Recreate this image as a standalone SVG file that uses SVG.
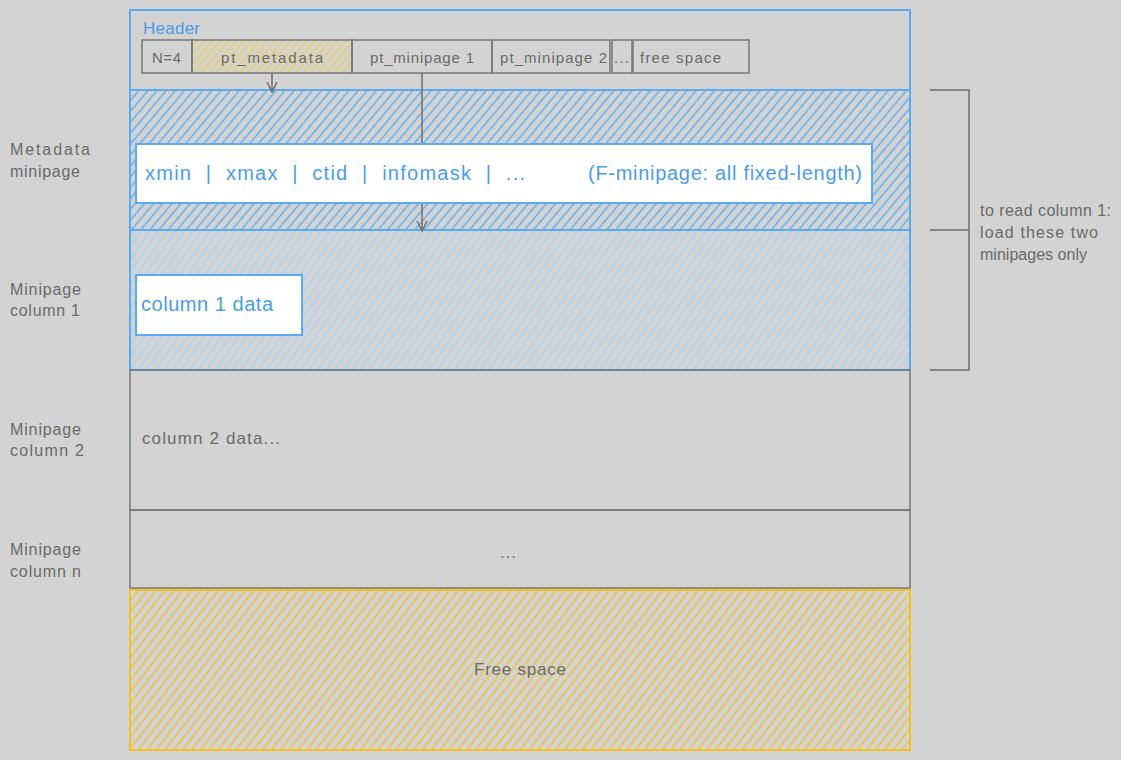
<svg xmlns="http://www.w3.org/2000/svg" width="1121" height="760" viewBox="0 0 1121 760">
<defs>
<style>
.t{font-family:"Liberation Sans",Arial,sans-serif;}
.gray{fill:#6a6a6a;}
.blue{fill:#4a9de6;}
.bbox{stroke:#5aabf0;stroke-width:2;}
.gbox{stroke:#777;stroke-width:1.5;fill:none;}
.conn{stroke:#6e6e6e;stroke-width:1.5;fill:none;}
</style>
<pattern id="hBlue" width="7" height="7" patternUnits="userSpaceOnUse" patternTransform="rotate(40)">
<line x1="3.5" y1="0" x2="3.5" y2="7" stroke="#5aabf0" stroke-width="1.4"/>
</pattern>
<pattern id="hLight" width="7" height="7" patternUnits="userSpaceOnUse" patternTransform="rotate(35)">
<line x1="3.5" y1="0" x2="3.5" y2="7" stroke="#a3d2f8" stroke-width="1.4"/>
</pattern>
<pattern id="hYellow" width="7" height="7" patternUnits="userSpaceOnUse" patternTransform="rotate(38)">
<line x1="3.5" y1="0" x2="3.5" y2="7" stroke="#f5c12a" stroke-width="1.4"/>
</pattern>
<pattern id="hYellowL" width="6" height="6" patternUnits="userSpaceOnUse" patternTransform="rotate(40)">
<line x1="3" y1="0" x2="3" y2="6" stroke="#f0cc5c" stroke-width="1.5"/>
</pattern>
<marker id="arr" viewBox="0 0 12 12" refX="11" refY="6" markerWidth="12" markerHeight="12" markerUnits="userSpaceOnUse" orient="auto">
<path d="M1,1 L11,6 L1,11" fill="none" stroke="#6e6e6e" stroke-width="1.5"/>
</marker>
</defs>
<rect width="1121" height="760" fill="#d3d3d3"/>

<g id="header">
<rect x="130" y="10" width="780" height="80" fill="none" class="bbox"/>
<text x="143" y="34" class="t blue" font-size="17" textLength="57">Header</text>
</g>

<g id="cell-n">
<rect x="142" y="40" width="50" height="33" class="gbox"/>
<text x="152" y="63" class="t gray" font-size="15" textLength="29">N=4</text>
</g>
<g id="cell-pt-metadata">
<rect x="192" y="40" width="160" height="33" class="gbox" style="fill:url(#hYellowL)"/>
<text x="221" y="63" class="t gray" font-size="15" textLength="102">pt_metadata</text>
</g>
<g id="cell-pt-minipage1">
<rect x="352" y="40" width="140" height="33" class="gbox"/>
<text x="370" y="63" class="t gray" font-size="15" textLength="104">pt_minipage 1</text>
</g>
<g id="cell-pt-minipage2">
<rect x="492" y="40" width="118" height="33" class="gbox"/>
<text x="500" y="63" class="t gray" font-size="15" textLength="107">pt_minipage 2</text>
</g>
<g id="cell-dots">
<rect x="612" y="40" width="20" height="33" class="gbox"/>
<text x="614" y="63" class="t gray" font-size="15" textLength="15">...</text>
</g>
<g id="cell-free">
<rect x="633" y="40" width="116" height="33" class="gbox"/>
<text x="640" y="63" class="t gray" font-size="15" textLength="81">free space</text>
</g>

<g id="metadata-minipage">
<rect x="130" y="90" width="780" height="140" fill="url(#hBlue)" class="bbox"/>
</g>

<g id="column1-minipage">
<rect x="130" y="230" width="780" height="140" fill="url(#hLight)" class="bbox"/>
</g>

<g id="column2-minipage">
<rect x="130" y="370" width="780" height="140" class="gbox" stroke-width="2"/>
<text x="142" y="444" class="t gray" font-size="17" textLength="138">column 2 data...</text>
</g>

<g id="columnn-minipage">
<rect x="130" y="510" width="780" height="78" class="gbox" stroke-width="2"/>
<text x="500" y="558" class="t gray" font-size="17" textLength="16">...</text>
</g>

<g id="free-space">
<rect x="130" y="590" width="780" height="160" fill="url(#hYellow)" stroke="#f5c12a" stroke-width="2"/>
<text x="474" y="675" class="t gray" font-size="17" textLength="92">Free space</text>
</g>

<g id="connectors">
<line x1="272" y1="73" x2="272" y2="92" class="conn" marker-end="url(#arr)"/>
<line x1="422" y1="73" x2="422" y2="231" class="conn" marker-end="url(#arr)"/>
<path d="M930,90 H969 V370 H930 M930,230 H969" class="conn" stroke-width="2"/>
</g>

<g id="metadata-fields">
<rect x="136" y="144" width="736" height="59" fill="#ffffff" class="bbox" stroke-width="2.5"/>
<text x="145" y="180" class="t blue" font-size="20" textLength="380" lengthAdjust="spacing" xml:space="preserve">xmin  |  xmax  |  ctid  |  infomask  |  ...</text>
<text x="588" y="180" class="t blue" font-size="20" textLength="274">(F-minipage: all fixed-length)</text>
</g>

<g id="column1-data">
<rect x="136" y="275" width="166" height="60" fill="#ffffff" class="bbox" stroke-width="2.5"/>
<text x="141" y="311" class="t blue" font-size="20" textLength="132">column 1 data</text>
</g>

<g id="left-labels">
<text x="10" y="155" class="t gray" font-size="16" textLength="80">Metadata</text>
<text x="10" y="177" class="t gray" font-size="16" textLength="70">minipage</text>
<text x="10" y="295" class="t gray" font-size="16" textLength="71">Minipage</text>
<text x="10" y="316" class="t gray" font-size="16" textLength="70">column 1</text>
<text x="10" y="435" class="t gray" font-size="16" textLength="71">Minipage</text>
<text x="10" y="456" class="t gray" font-size="16" textLength="74">column 2</text>
<text x="10" y="555" class="t gray" font-size="16" textLength="71">Minipage</text>
<text x="10" y="577" class="t gray" font-size="16" textLength="71">column n</text>
</g>

<g id="bracket-label">
<text x="980" y="216" class="t gray" font-size="16" textLength="131">to read column 1:</text>
<text x="980" y="238" class="t gray" font-size="16" textLength="118">load these two</text>
<text x="980" y="260" class="t gray" font-size="16" textLength="107">minipages only</text>
</g>
</svg>
